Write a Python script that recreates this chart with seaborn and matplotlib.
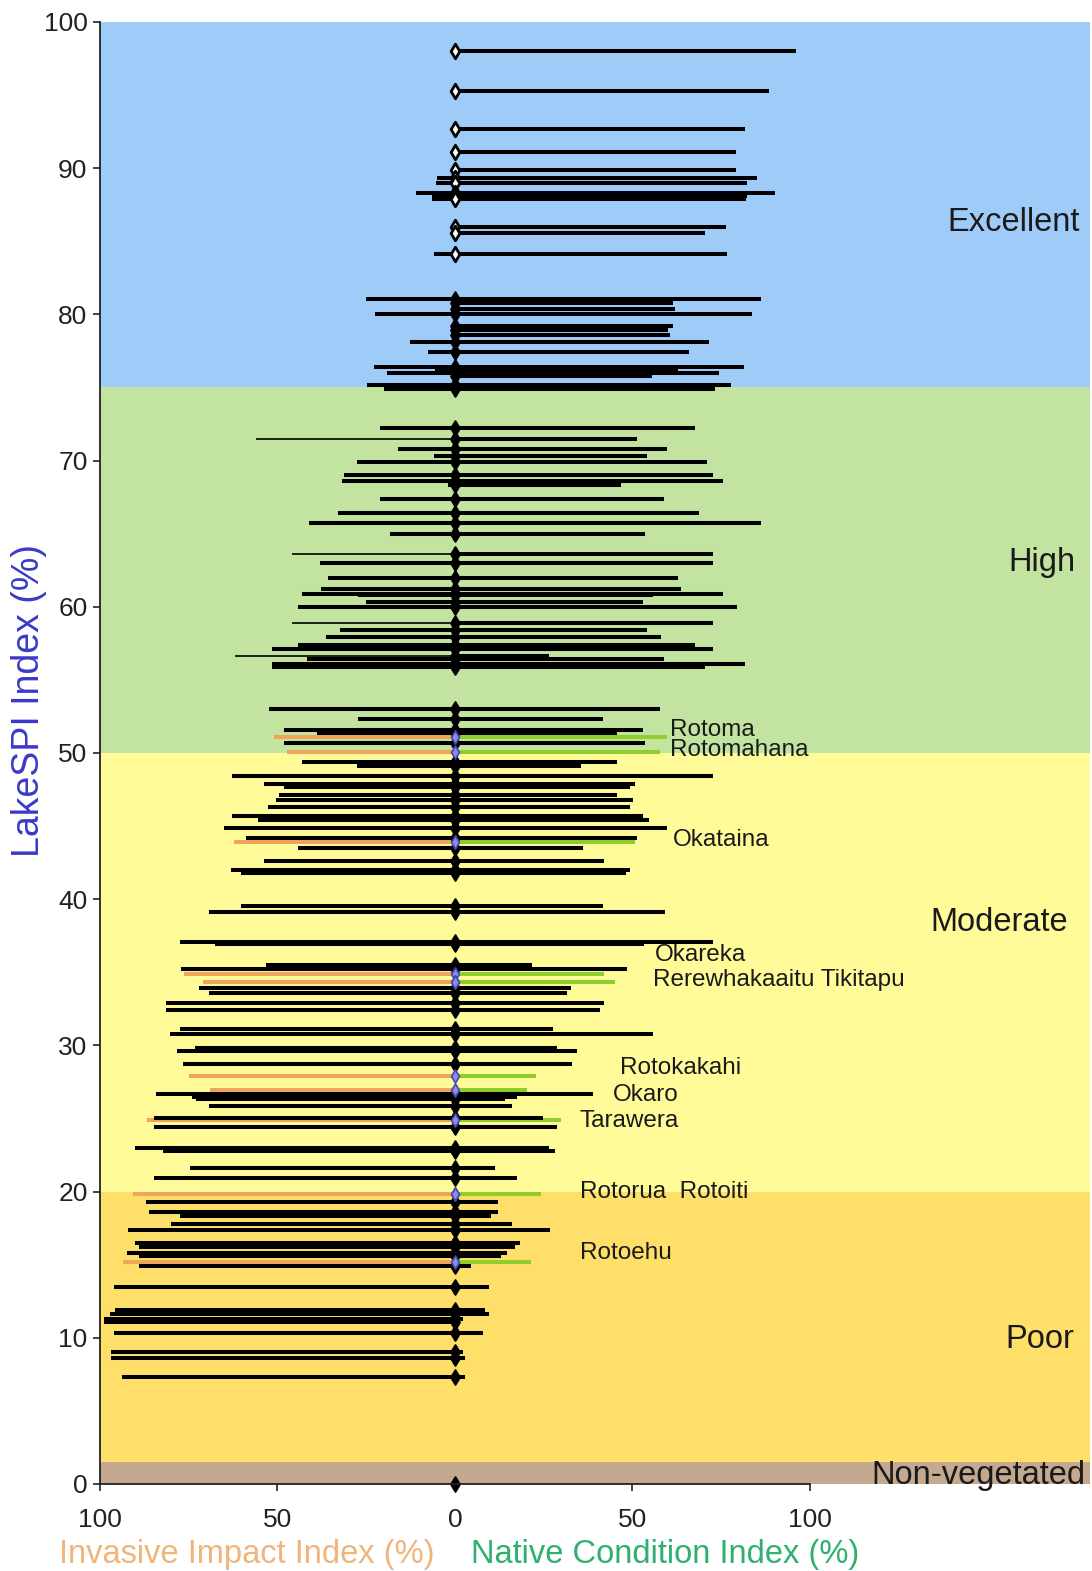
import numpy as np
import pandas as pd
import matplotlib.pyplot as plt
import seaborn as sns

# LakeSPI index (%), invasive impact index (%), native condition index (%) - one entry per lake
spi = [98.0, 95.3, 92.7, 91.1, 89.9, 89.3, 89.0, 88.3, 88.1, 87.9, 86.0, 85.6, 84.1,
       81.05, 80.8, 80.4, 80.0, 79.2, 78.9, 78.6, 78.1, 77.4, 76.4, 76.2, 76.0, 75.8, 75.2, 74.9,
       72.2, 71.5, 70.8, 70.3, 69.9, 69.0, 68.6, 68.3, 67.4, 66.4, 65.7, 65.0,
       63.6, 63.0, 62.0, 61.2, 60.9, 60.8, 60.35, 59.96, 58.9, 58.4, 57.9, 57.4, 57.1,
       56.6, 56.4, 56.1, 55.9,
       53.0, 52.3, 51.6, 51.4, 50.7, 49.4, 49.1, 48.4, 47.9, 47.65, 47.1, 46.8, 46.3,
       45.7, 45.4, 44.85, 44.2, 43.5, 42.6, 42.0, 41.8, 39.5, 39.15, 37.1, 36.9, 35.5, 35.2,
       33.95, 33.55, 32.9, 32.4, 31.1, 30.8, 29.8, 29.7, 29.6, 28.7,
       26.7, 26.5, 26.3, 25.85, 25.05, 24.4, 23.0, 22.8, 21.6, 20.9,
       19.3, 18.6, 18.3, 17.8, 17.4, 16.5, 16.2, 15.8, 15.6, 14.9,
       13.5, 11.9, 11.6, 11.3, 11.05, 10.3, 9.0, 8.6, 7.35, 0.0]
invasive = [0, 0, 0, 0, 0, 5.1, 5.3, 11.1, 6.5, 6.5, 0, 0, 5.8,
            25.0, 1, 1, 22.4, 1, 1, 1, 12.7, 7.6, 22.8, 5.7, 19.1, 1, 24.7, 20.1,
            21.2, 56.0, 16.0, 5.8, 27.7, 31.3, 31.9, 2, 21.2, 33.0, 41.0, 18.3,
            45.9, 38.1, 35.9, 37.6, 43.2, 27.3, 25.0, 44.3, 45.9, 32.4, 36.4, 44.3, 51.6,
            61.9, 41.6, 51.6, 51.6,
            52.3, 27.4, 48.3, 39.0, 48.3, 43.2, 27.7, 62.7, 53.9, 48.3, 49.6, 50.5, 52.7,
            62.7, 55.6, 65.0, 59.0, 44.3, 53.9, 63.0, 60.3, 60.3, 69.2, 77.6, 67.6, 53.3, 77.2,
            72.0, 69.2, 81.5, 81.5, 77.6, 80.2, 73.3, 59.0, 78.2, 76.5,
            84.2, 74.2, 72.9, 69.2, 84.9, 84.9, 90.2, 82.2, 74.6, 84.9,
            87.1, 86.2, 77.6, 79.9, 92.2, 90.2, 88.9, 92.5, 88.9, 88.9,
            96.2, 95.8, 97.3, 98.8, 99.0, 96.2, 96.9, 96.9, 93.8, 0]
native = [96.2, 88.4, 81.6, 79.3, 79.3, 85.1, 82.3, 90.3, 82.3, 82.0, 76.3, 70.4, 76.7,
          86.3, 61.4, 62.1, 83.6, 61.4, 60.1, 60.5, 71.7, 66.0, 81.4, 62.8, 74.5, 55.4, 77.8, 73.4,
          67.7, 51.4, 59.7, 54.1, 71.0, 72.7, 75.6, 46.8, 58.8, 68.7, 86.3, 53.7,
          72.7, 72.7, 62.8, 63.8, 75.6, 55.9, 53.0, 79.6, 72.7, 54.1, 58.1, 67.7, 72.7,
          26.5, 58.8, 81.8, 70.5,
          57.7, 41.7, 53.0, 45.8, 53.7, 45.8, 35.5, 72.7, 50.8, 49.4, 45.7, 50.1, 49.4,
          53.0, 54.8, 59.7, 51.4, 36.1, 42.1, 49.4, 48.1, 41.7, 59.1, 72.7, 53.4, 21.8, 48.5,
          32.8, 31.5, 42.1, 40.8, 27.5, 55.8, 28.8, 22.2, 34.4, 33.1,
          38.8, 17.5, 14.2, 16.2, 24.9, 28.8, 26.4, 28.2, 11.3, 17.5,
          12.2, 12.2, 10.2, 16.2, 26.8, 18.4, 16.8, 14.8, 13.0, 4.6,
          9.5, 8.6, 9.5, 2.2, 1.0, 7.9, 2.2, 2.9, 2.9, 0]

# Rotorua lakes (highlighted)
lake_names = ['Rotoma', 'Rotomahana', 'Okataina', 'Okareka', 'Rerewhakaaitu', 'Tikitapu',
              'Rotokakahi', 'Okaro', 'Tarawera', 'Rotorua', 'Rotoiti', 'Rotoehu']
lake_spi = [51.1, 50.1, 43.9, 34.9, 34.35, 34.35, 27.9, 26.95, 24.9, 19.8, 19.8, 15.2]
lake_invasive = [50.9, 47.3, 62.3, 76.3, 70.9, 49.0, 74.9, 68.9, 86.9, 90.6, 81.5, 93.5]
lake_native = [59.7, 57.7, 50.7, 42.1, 45.1, 23.5, 22.8, 20.2, 29.8, 24.2, 19.5, 21.5]

# condition bands
bands = ['Non-vegetated', 'Poor', 'Moderate', 'High', 'Excellent']
band_low = [0, 1.5, 20, 50, 75]
band_high = [1.5, 20, 50, 75, 100]
band_colors = ['#c4a88f', '#fddf6a', '#fffb99', '#c3e3a0', '#9fcbf8']

sns.set_style('ticks')
plt.rcParams['font.family'] = ['Liberation Sans', 'DejaVu Sans']
plt.rcParams['lines.solid_capstyle'] = 'butt'


def segments(ys, lefts, rights):
    rows = []
    for i, (y, l, r) in enumerate(zip(ys, lefts, rights)):
        rows.append({'id': i, 'side': 'L', 'x': -l, 'y': y})
        rows.append({'id': i, 'side': 'L', 'x': 0, 'y': y})
        rows.append({'id': i, 'side': 'R', 'x': 0, 'y': y})
        rows.append({'id': i, 'side': 'R', 'x': r, 'y': y})
    return pd.DataFrame(rows)


df = segments(spi, invasive, native)
df_lakes = segments(lake_spi, lake_invasive, lake_native)
thin_left = [29, 40, 48, 53]  # lakes whose invasive bar is drawn thin

fig = plt.figure(figsize=(10.92, 15.71), dpi=100)
ax = fig.add_axes([0.0916, 0.0554, 0.9064, 0.9306])

for lo, hi, c in zip(band_low, band_high, band_colors):
    ax.axhspan(lo, hi, color=c, lw=0, zorder=0)

# highlighted lakes first
sns.lineplot(data=df_lakes[df_lakes.side == 'L'], x='x', y='y', units='id', estimator=None,
             sort=False, color='#efa65c', lw=2.9, ax=ax, zorder=2)
sns.lineplot(data=df_lakes[df_lakes.side == 'R'], x='x', y='y', units='id', estimator=None,
             sort=False, color='#8ecf2c', lw=2.9, ax=ax, zorder=2)

left = df[df.side == 'L']
sns.lineplot(data=left[~left.id.isin(thin_left)], x='x', y='y', units='id', estimator=None,
             sort=False, color='black', lw=2.9, ax=ax, zorder=3)
sns.lineplot(data=left[left.id.isin(thin_left)], x='x', y='y', units='id', estimator=None,
             sort=False, color='black', lw=1.2, ax=ax, zorder=3)
sns.lineplot(data=df[df.side == 'R'], x='x', y='y', units='id', estimator=None,
             sort=False, color='black', lw=2.9, ax=ax, zorder=3)

# diamonds: open in the sparse top part, solid further down
pts = pd.DataFrame({'x': np.zeros(len(spi)), 'y': spi})
top = pts.y >= 84
sns.scatterplot(data=pts[top], x='x', y='y', marker='d', s=55, color='white',
                edgecolor='black', linewidth=2.0, ax=ax, zorder=4, clip_on=False)
sns.scatterplot(data=pts[~top], x='x', y='y', marker='d', s=55, color='black',
                edgecolor='black', linewidth=1.5, ax=ax, zorder=4, clip_on=False)
lpts = pd.DataFrame({'x': np.zeros(len(lake_spi)), 'y': lake_spi})
sns.scatterplot(data=lpts, x='x', y='y', marker='d', s=45, color='#8c8ce6',
                edgecolor='#4646b4', linewidth=1.2, ax=ax, zorder=5)

ax.set_xlim(-100, 178.9)
ax.set_ylim(0, 100)
sns.despine(ax=ax)
ax.spines['bottom'].set_bounds(-100, 100)
for s in ['left', 'bottom']:
    ax.spines[s].set_color('#222222')
    ax.spines[s].set_linewidth(1.3)
    ax.spines[s].set_zorder(6)
ax.set_xticks([-100, -50, 0, 50, 100])
ax.set_xticklabels(['100', '50', '0', '50', '100'])
ax.set_yticks(range(0, 101, 10))
ax.tick_params(axis='x', length=5, width=1.2, pad=12, labelsize=19, colors='#222222')
ax.tick_params(axis='y', length=5, width=1.2, pad=4, labelsize=19, colors='#222222')
ax.set_xlabel('')
ax.set_ylabel('')

ax.text(-58.6, -4.8, 'Invasive Impact Index (%)', color='#f0b57a', fontsize=23.5,
        ha='center', va='center', clip_on=False)
ax.text(59.2, -4.8, 'Native Condition Index (%)', color='#2fb070', fontsize=23.5,
        ha='center', va='center', clip_on=False)
fig.text(0.027, 0.554, 'LakeSPI Index (%)', color='#3a3ac8', fontsize=27,
         rotation=90, ha='center', va='center')

band_labels = [(177.8, 0.6), (174.4, 9.85), (172.7, 38.4), (175.0, 63.0), (176.1, 86.3)]
for name, (bx, by) in zip(bands, band_labels):
    ax.text(bx, by, name, fontsize=23.5, ha='right', va='center', color='#1a1a1a', zorder=7)

lake_labels = [('Rotoma', 60.6, 51.6), ('Rotomahana', 60.6, 50.2), ('Okataina', 61.4, 44.05),
               ('Okareka', 56.3, 36.2), ('Rerewhakaaitu Tikitapu', 55.8, 34.5),
               ('Rotokakahi', 46.5, 28.45), ('Okaro', 44.5, 26.6), ('Tarawera', 35.2, 24.8),
               ('Rotorua  Rotoiti', 35.2, 20.0), ('Rotoehu', 35.2, 15.8)]
for txt, lx, ly in lake_labels:
    ax.text(lx, ly, txt, fontsize=17.5, ha='left', va='center', color='#1a1a1a', zorder=7)

fig.savefig('out.png', dpi=100)
